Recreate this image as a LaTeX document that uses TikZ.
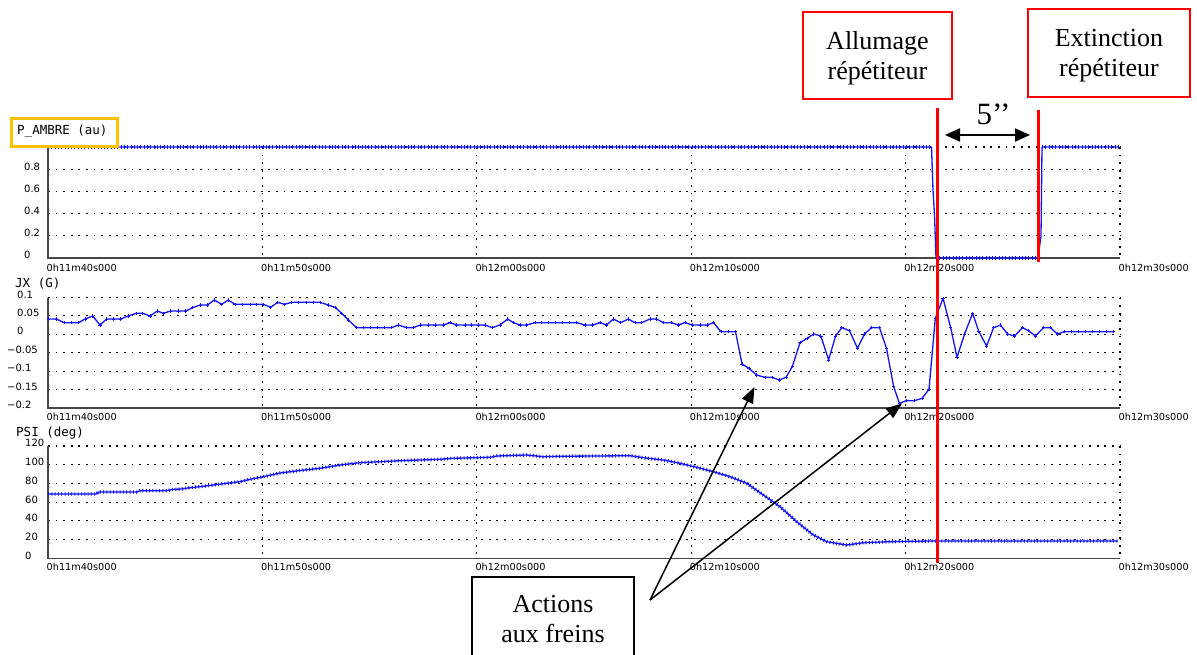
\documentclass[tikz,border=0pt]{standalone}
\usepackage{fontspec}
\setmainfont{Liberation Serif}
\newfontfamily\plotfont{DejaVu Sans}
\newfontfamily\plotmono{DejaVu Sans Mono}
\usetikzlibrary{arrows.meta}
\definecolor{tracecol}{RGB}{20,20,245}
\definecolor{framecol}{RGB}{70,70,70}
\definecolor{tagcol}{RGB}{255,192,0}

\begin{document}
\begin{tikzpicture}[x=1pt,y=-1pt,
  gridline/.style={black, line width=1.1pt, dash pattern=on 1.8pt off 5.8pt},
  axisline/.style={framecol, line width=1.5pt},
  trace/.style={tracecol, line width=1.3pt, line join=round},
  tickmarks/.style={tracecol, line width=3.4pt, dash pattern=on 1pt off 2.3pt},
  ylab/.style={font=\plotfont\fontsize{10}{12}\selectfont, anchor=west, inner sep=0pt},
  xlab/.style={font=\plotfont\fontsize{9.7}{12}\selectfont, anchor=west, inner sep=0pt},
  ttl/.style={font=\plotmono\fontsize{12.5}{14}\selectfont, anchor=west, inner sep=0pt},
  redbox/.style={draw=red, line width=2.2pt, fill=white, align=center,
    font=\fontsize{26}{30}\selectfont, text depth=0pt},
  notebox/.style={draw=black, line width=1.6pt, fill=white, align=center,
    font=\fontsize{26}{30}\selectfont, text depth=0pt},
  marker/.style={red, line width=3pt},
  pointer/.style={black, line width=1.5pt, -{Triangle[length=16pt,width=12pt]}},
  span/.style={black, line width=2.2pt, {Triangle[length=15pt,width=13pt]}-{Triangle[length=15pt,width=13pt]}}
]
\clip (0,0) rectangle (1197,655);
\fill[white] (0,0) rectangle (1197,655);

% ---------- grids and axes ----------
% panel 1: P_AMBRE
\foreach \y in {147,169.2,191.4,213.6,235.8}
  \draw[gridline] (48,\y) -- (1120,\y);
\foreach \x in {262.4,476.8,691.2,905.6,1120}
  \draw[gridline] (\x,147) -- (\x,258);
\draw[axisline] (48,147) -- (48,258) -- (1120,258);
% panel 2: JX
\foreach \y in {297.5,315.9,334.3,352.7,371.1,389.5}
  \draw[gridline] (48,\y) -- (1120,\y);
\foreach \x in {262.4,476.8,691.2,905.6,1120}
  \draw[gridline] (\x,297.5) -- (\x,408);
\draw[axisline] (48,297.5) -- (48,408) -- (1120,408);
% panel 3: PSI
\foreach \y in {446,464.7,483.4,502.1,520.8,539.5}
  \draw[gridline] (48,\y) -- (1120,\y);
\foreach \x in {262.4,476.8,691.2,905.6,1120}
  \draw[gridline] (\x,446) -- (\x,558.3);
\draw[axisline] (48,446) -- (48,558.3) -- (1120,558.3);

% ---------- traces ----------
% P_AMBRE
\draw[trace] (48,147) -- (931.5,147) -- (933,190) -- (934.5,215) -- (936,258)
  -- (1038,258) -- (1041,236) -- (1042,147) -- (1118,147);
\draw[tickmarks] (48,147) -- (931,147);
\draw[tickmarks] (936,258) -- (1038,258);
\draw[tickmarks] (1042,147) -- (1118,147);

% JX
\draw[trace] plot[mark=+, mark size=1.7pt, mark options={line width=1pt}] coordinates {
 (48.3,319) (56.7,319) (64,322.7) (71,322.7) (78.7,322.7) (85,319) (92.7,316)
 (100,325) (106.7,319) (113.3,319) (120.7,319) (128.3,316) (136,313.3) (142.7,313.3)
 (150,316) (157.3,311) (163.3,313.3) (170.7,311) (178.3,311) (185.7,311) (192.7,307.7)
 (200,305) (207.3,305) (214.3,300) (221.7,304.3) (228.3,300) (235,304.3) (242.7,304.3)
 (250,304.3) (256.7,304.3) (263.3,304.3) (270.7,307.3) (277.7,302.3) (284.5,304.3)
 (291.7,302.3) (298.3,302.3) (306.7,302.3) (313.3,302.3) (320,302.3) (328.3,305)
 (335,307.3) (341.7,313.3) (348.3,320) (356.7,327.7) (363.5,327.7) (370.5,327.7)
 (377.5,327.7) (384.5,327.7) (391.5,327.7) (398.3,325) (406.7,327.7) (413.3,327.7)
 (420,325) (428.3,325) (435,325) (443.3,325) (450,322.7) (456.7,325) (465,325)
 (471.7,325) (478.3,325) (485,325) (492.3,327.7) (500,325) (507.7,319) (513.3,322.7)
 (520,325) (526.7,325) (535,322.7) (541.7,322.7) (548.3,322.7) (555,322.7) (562,322.7)
 (569,322.7) (576.7,322.7) (585,325) (592.3,325) (600,322.7) (606.7,325) (613.3,319)
 (620.7,322.7) (628.3,319) (635,322.7) (641.7,322.7) (650,319) (656.7,319) (663.3,322.7)
 (671.7,322.7) (678.3,325) (685,322.7) (692.5,325) (700,325) (707,325) (713.5,322.7)
 (721,331.7) (728.5,331.7) (735.5,331.7) (742,364) (749,368.3) (756.4,375) (765,377.3)
 (772,377.3) (779.2,380) (786,377.3) (792.3,366.7) (800,342.7) (807,338.3) (813.9,334)
 (820.9,336) (828.6,360) (835.6,336) (841.8,327.7) (849.5,330.7) (857.5,348.3)
 (864.5,334) (871.5,327.7) (879.5,327.7) (886.5,348.3) (893.5,386) (899.4,403.3)
 (906.4,400.7) (914.4,400.7) (922.1,398.3) (929,389.3) (935.3,318.3) (943,298.3)
 (950.7,327.7) (957,357.3) (964.6,334) (972.6,313.3) (978.9,331.7) (986.6,346)
 (993.6,327.7) (1000.5,325) (1007.5,334) (1014.5,336) (1022.5,327.7) (1028.4,330.7)
 (1035.4,336) (1043.5,327.7) (1050.4,327.7) (1057.4,334) (1064.4,331.7) (1071.4,331.7)
 (1078.4,331.7) (1085.4,331.7) (1092.4,331.7) (1099.4,331.7) (1106.4,331.7) (1113,331.7)};

% PSI
\def\psipath{(48,494) -- (96.7,494) -- (98.3,492) -- (136.7,492) -- (140,490.7)
 -- (166.7,490.7) -- (173.3,489.3) -- (181.7,489) -- (190,487.7) -- (200,486.7)
 -- (213.3,485) -- (226.7,483.3) -- (240,481.7) -- (250,479.3) -- (262,477)
 -- (280,473) -- (300,470.5) -- (320,468.3) -- (340,465) -- (360,462.7)
 -- (380,461.7) -- (400,460.7) -- (420,460) -- (440,459.3) -- (453,458.3)
 -- (475,457.7) -- (490,457.3) -- (496.7,456) -- (526.7,455) -- (543.3,456.7)
 -- (560,456.3) -- (630,455.7) -- (643.3,457.7) -- (663.3,460) -- (680,463.3)
 -- (696.7,467.3) -- (713.3,471.7) -- (730,476.7) -- (746.7,483.3) -- (763.3,495)
 -- (780,506.7) -- (796.7,521.7) -- (813.3,535) -- (826.7,541.7) -- (846.7,545)
 -- (863.3,542.7) -- (890,541.7) -- (930,541) -- (1118,541)}
\draw[trace] \psipath;
\draw[tickmarks] \psipath;

% ---------- tick labels ----------
\foreach \v/\y [count=\i] in {1/147,0.8/169.2,0.6/191.4,0.4/213.6,0.2/235.8,0/258}
  \node[ylab] (ya\i) at (24,\y-2.7) {\v};
\foreach \v/\y [count=\i] in {0.1/297.5,0.05/315.9,0/334.3}
  \node[ylab] (yb\i) at (17,\y-3) {\v};
\foreach \v/\y [count=\i] in {−0.05/352.7,−0.1/371.1,−0.15/389.5,−0.2/408}
  \node[ylab] (yc\i) at (7,\y-3) {\v};
\foreach \v/\y [count=\i] in {120/446,100/464.7,80/483.4,60/502.1,40/520.8,20/539.5,0/558.3}
  \node[ylab] (yd\i) at (25,\y-2.7) {\v};

\foreach \yl/\p in {268.3/a,417.3/b,566.8/c}
  \foreach \t/\x [count=\i] in {0h11m40s000/48,0h11m50s000/262.4,0h12m00s000/476.8,
      0h12m10s000/691.2,0h12m20s000/905.6,0h12m30s000/1120}
    \node[xlab] (x\p\i) at (\x-1.5,\yl) {\t};

% ---------- panel titles ----------
\node[draw=tagcol, line width=3.5pt, fill=white, minimum width=106pt, minimum height=28.4pt,
  inner sep=0pt] (tagbox) at (64.7,132.5) {};
\node[ttl] (ttla) at (17,131.7) {P\_AMBRE (au)};
\node[ttl] (ttlb) at (15,283.3) {JX (G)};
\node[ttl] (ttlc) at (16,433.3) {PSI (deg)};

% ---------- event markers ----------
\coordinate (onTop) at (937.7,108.3);
\coordinate (onBot) at (937.7,563.3);
\coordinate (offTop) at (1038.5,110);
\coordinate (offBot) at (1038.5,261.7);
\draw[marker] (onTop) -- (onBot);
\draw[marker] (offTop) -- (offBot);

\coordinate (spanL) at (945,135);
\coordinate (spanR) at (1030,135);
\draw[span] (spanL) -- (spanR);
\node[font=\fontsize{31}{34}\selectfont, anchor=base, inner sep=0pt] (dur) at (993.5,125) {5’’};

\node[redbox, minimum width=149pt, minimum height=87pt] (allum) at (877.5,55.5)
  {Allumage\\répétiteur};
\node[redbox, minimum width=162pt, minimum height=88pt] (extin) at (1109,53)
  {Extinction\\répétiteur};

% ---------- brake annotation ----------
\node[notebox, minimum width=162pt, minimum height=84pt, anchor=north] (brakes) at (553,576)
  {Actions\\aux freins};
\coordinate (brk) at (650,600);
\coordinate (tipA) at (754.5,387);
\coordinate (tipB) at (902,403.5);
\draw[pointer] (brk) -- (tipA);
\draw[pointer] (brk) -- (tipB);
\end{tikzpicture}
\end{document}
